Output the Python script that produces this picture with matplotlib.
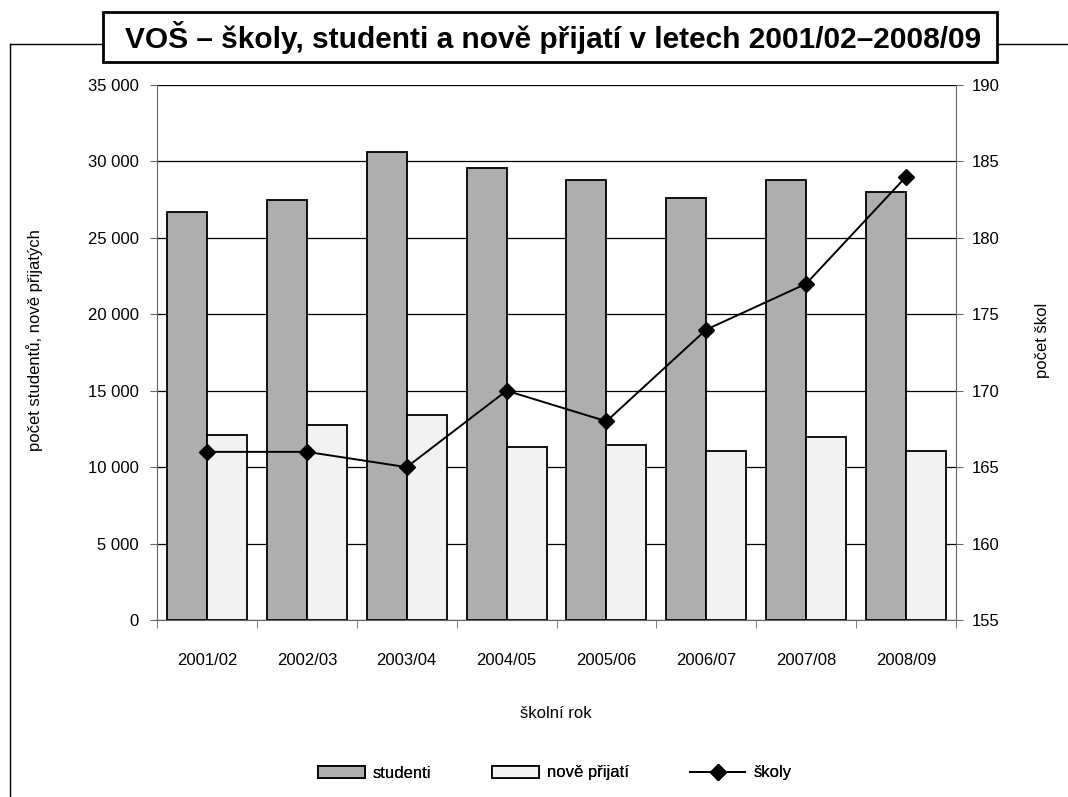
import matplotlib
matplotlib.use("Agg")
import matplotlib.pyplot as plt
import numpy as np
from matplotlib.patches import Rectangle
from matplotlib.lines import Line2D
from matplotlib.ticker import FuncFormatter, MultipleLocator

categories = ["2001/02", "2002/03", "2003/04", "2004/05", "2005/06", "2006/07", "2007/08", "2008/09"]
studenti = [26700, 27500, 30600, 29600, 28800, 27600, 28800, 28000]
nove_prijati = [12100, 12750, 13400, 11300, 11450, 11050, 12000, 11050]
skoly = [166, 166, 165, 170, 168, 174, 177, 184]

FONT = ['Liberation Sans Narrow', 'Liberation Sans', 'DejaVu Sans']
plt.rcParams['font.family'] = FONT

W, H = 1068, 797
fig = plt.figure(figsize=(W / 100, H / 100), dpi=100)

def fx(px):
    return px / W

def fy(py):
    return 1 - py / H

# frame lines
fig.add_artist(Line2D([fx(10), fx(10)], [fy(44), fy(797)], color='black', lw=1.0))
fig.add_artist(Line2D([fx(10), fx(103)], [fy(44), fy(44)], color='black', lw=1.0))
fig.add_artist(Line2D([fx(997), fx(1068)], [fy(44), fy(44)], color='black', lw=1.0))
fig.add_artist(Rectangle((fx(103), fy(62)), fx(997) - fx(103), fy(12) - fy(62),
                         facecolor='white', edgecolor='black', lw=2.0, transform=fig.transFigure))
fig.text(fx(553), fy(37), "VOŠ – školy, studenti a nově přijatí v letech 2001/02–2008/09",
         ha='center', va='center', fontsize=21.5, fontweight='bold', family=FONT)

left, right, top, bottom = 157, 956, 85, 620
ax = fig.add_axes([fx(left), fy(bottom), fx(right - left), fy(top) - fy(bottom)])

x = np.arange(len(categories))
bw = 0.4
ax.bar(x - bw / 2, studenti, width=bw, color='#aeaeae', edgecolor='black', lw=1.3, zorder=2, label='studenti')
ax.bar(x + bw / 2, nove_prijati, width=bw, color='#f2f2f2', edgecolor='black', lw=1.3, zorder=2, label='nově přijatí')

ax.set_xlim(-0.5, len(categories) - 0.5)
ax.set_ylim(0, 35000)
ax.yaxis.set_major_locator(MultipleLocator(5000))
ax.yaxis.set_major_formatter(FuncFormatter(lambda v, p: f"{int(v):,}".replace(",", " ")))
ax.grid(axis='y', color='black', lw=0.9, zorder=0)
ax.set_axisbelow(True)
ax.set_xticks(x)
ax.set_xticklabels(categories)
ax.tick_params(axis='x', length=0, pad=24, labelsize=12)
ax.set_xticks(np.arange(len(categories) + 1) - 0.5, minor=True)
ax.tick_params(axis='x', which='minor', length=6, direction='out', color='#666666')
ax.tick_params(axis='y', length=5, direction='out', labelsize=12, pad=8, color='#666666')
for s in ['left', 'bottom']:
    ax.spines[s].set_color('#666666')
ax.spines['top'].set_visible(False)
ax.spines['right'].set_visible(False)

ax2 = ax.twinx()
ax2.plot(x, skoly, color='black', lw=1.4, marker='D', markersize=8, zorder=5, label='školy')
ax2.set_ylim(155, 190)
ax2.yaxis.set_major_locator(MultipleLocator(5))
ax2.tick_params(axis='y', length=5, direction='out', labelsize=12, pad=6, color='#666666')
ax2.spines['right'].set_color('#666666')
ax2.spines['top'].set_visible(False)
ax2.spines['left'].set_visible(False)
ax2.spines['bottom'].set_visible(False)

fig.text(fx(35), fy(340), "počet studentů, nově přijatých", rotation=90, ha='center', va='center', fontsize=12)
fig.text(fx(1042), fy(340), "počet škol", rotation=90, ha='center', va='center', fontsize=12)
fig.text(fx(556), fy(714), "školní rok", ha='center', va='center', fontsize=12)

items = [
    (Rectangle((0, 0), 1, 1, facecolor='#aeaeae', edgecolor='black', lw=1.3), 'studenti', 318, 2.8),
    (Rectangle((0, 0), 1, 1, facecolor='#f2f2f2', edgecolor='black', lw=1.3), 'nově přijatí', 492, 2.8),
    (Line2D([], [], color='black', lw=1.4, marker='D', markersize=8), 'školy', 690, 3.3),
]
for h, lab, px, hl in items:
    leg = fig.legend([h], [lab], loc='center left', bbox_to_anchor=(fx(px), fy(773)),
                     frameon=False, fontsize=12, handlelength=hl, handleheight=0.7,
                     handletextpad=0.5, borderpad=0, borderaxespad=0)
    fig.add_artist(leg)

fig.savefig("out.png", dpi=100)
